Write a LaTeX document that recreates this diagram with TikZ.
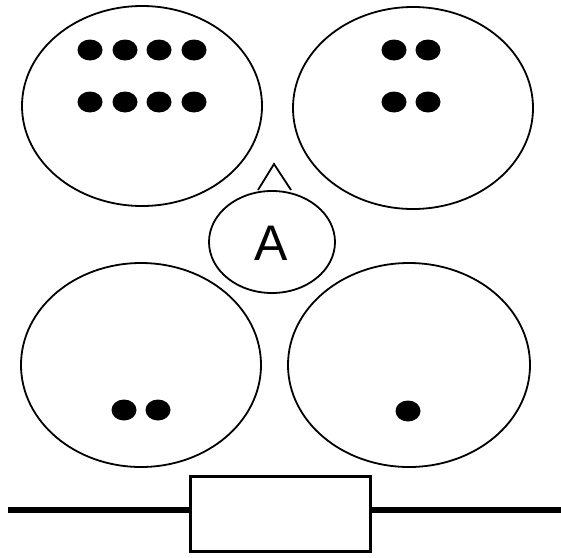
\documentclass[tikz,border=0pt]{standalone}
\usepackage{fontspec}
\setmainfont{Liberation Sans}
\begin{document}
\begin{tikzpicture}[x=1pt,y=-1pt,
  blob/.style={draw=black,line width=1.8pt,fill=white},
  dot/.style={fill=black},
]
\useasboundingbox (0,0) rectangle (561,557);
\fill[white] (0,0) rectangle (561,557);
% ellipses
\draw[blob] (142,106) ellipse [x radius=120,y radius=100];
\draw[blob] (413,108) ellipse [x radius=120,y radius=101];
\draw[blob] (141,365) ellipse [x radius=120,y radius=102];
\draw[blob] (409,365) ellipse [x radius=121,y radius=102];
% triangle above A
\draw[line width=1.8pt,line join=miter] (258,190) -- (274,164) -- (291,190);
\draw[blob] (272,242) ellipse [x radius=63,y radius=51];
\node[font=\fontsize{50}{50}\selectfont,inner sep=0pt] (A) at (271,243) {A};
% dots
\foreach \x in {90,125,159,194} {
  \fill (\x,50) ellipse [x radius=12.5,y radius=10.5];
  \fill (\x,102) ellipse [x radius=12.5,y radius=10.5];
}
\foreach \x in {394,428} {
  \fill (\x,50) ellipse [x radius=12.5,y radius=10.5];
  \fill (\x,102) ellipse [x radius=12.5,y radius=10.5];
}
\foreach \x in {124,158} {
  \fill (\x,410) ellipse [x radius=12.5,y radius=10.5];
}
\fill (408,411) ellipse [x radius=12.5,y radius=10.5];
% bottom line with box
\coordinate (L) at (8,510);
\coordinate (R) at (561,510);
\node[draw,line width=2.2pt,minimum width=180pt,minimum height=75pt,inner sep=0pt,fill=white] (box) at (280.5,514) {};
\draw[line width=6pt] (L) -- (box.west |- L);
\draw[line width=6pt] (box.east |- R) -- (R);
\end{tikzpicture}
\end{document}
